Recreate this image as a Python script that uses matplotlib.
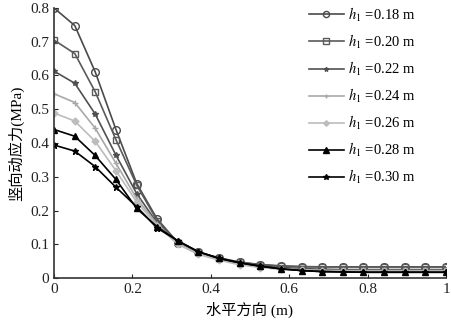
import matplotlib
matplotlib.use('Agg')
import matplotlib.pyplot as plt
import numpy as np

plt.rcParams['font.family'] = ['Liberation Serif', 'Noto Sans CJK SC']
plt.rcParams['mathtext.fontset'] = 'stix'

# horizontal distance (m), 20 stations from 0 to 1
x = [0.000, 0.053, 0.105, 0.158, 0.211, 0.263, 0.316, 0.368, 0.421, 0.474,
     0.526, 0.579, 0.632, 0.684, 0.737, 0.789, 0.842, 0.895, 0.947, 1.000]

labels = ['0.18', '0.20', '0.22', '0.24', '0.26', '0.28', '0.30']

s018 = [0.800, 0.748, 0.611, 0.440, 0.280, 0.175, 0.105, 0.076, 0.060, 0.047,
        0.040, 0.036, 0.034, 0.033, 0.033, 0.033, 0.033, 0.033, 0.033, 0.033]
s020 = [0.705, 0.665, 0.552, 0.410, 0.275, 0.170, 0.105, 0.076, 0.059, 0.046,
        0.039, 0.035, 0.033, 0.033, 0.033, 0.033, 0.033, 0.033, 0.033, 0.033]
s022 = [0.613, 0.577, 0.486, 0.364, 0.250, 0.163, 0.104, 0.074, 0.057, 0.044,
        0.036, 0.031, 0.028, 0.026, 0.025, 0.025, 0.025, 0.025, 0.025, 0.025]
s024 = [0.546, 0.520, 0.444, 0.340, 0.235, 0.160, 0.103, 0.072, 0.055, 0.041,
        0.033, 0.028, 0.025, 0.023, 0.022, 0.022, 0.022, 0.022, 0.022, 0.022]
s026 = [0.489, 0.465, 0.405, 0.318, 0.225, 0.155, 0.100, 0.070, 0.053, 0.039,
        0.031, 0.026, 0.023, 0.021, 0.020, 0.020, 0.020, 0.020, 0.020, 0.020]
s028 = [0.440, 0.420, 0.363, 0.292, 0.206, 0.152, 0.110, 0.078, 0.058, 0.045,
        0.035, 0.027, 0.022, 0.019, 0.018, 0.017, 0.017, 0.017, 0.017, 0.017]
s030 = [0.394, 0.376, 0.330, 0.269, 0.211, 0.148, 0.110, 0.078, 0.058, 0.045,
        0.035, 0.027, 0.022, 0.019, 0.018, 0.017, 0.017, 0.017, 0.017, 0.017]
series = [s018, s020, s022, s024, s026, s028, s030]

colors = ['#4a4a4a', '#5a5a5a', '#505050', '#a8a8a8', '#bcbcbc', '#000000', '#000000']
markers = ['o', 's', '*', '+', 'D', '^', '*']
msizes = [5.5, 5, 4, 4, 3.5, 5, 5]
fills = ['none', 'none', 'full', 'full', 'full', 'full', 'full']

fig = plt.figure(figsize=(4.51, 3.22), dpi=100)
ax = fig.add_axes([54 / 451, 1 - 278 / 322, 392 / 451, 270 / 322])

for s, lab, c, m, ms, f in zip(series, labels, colors, markers, msizes, fills):
    ax.plot(x, s, color=c, marker=m, markersize=ms, fillstyle=f,
            markeredgewidth=1.0, linewidth=1.2,
            label='$h_1$ =' + lab + ' m')

ax.set_xlim(0, 1)
ax.set_ylim(0, 0.8)
ax.set_xticks([0, 0.2, 0.4, 0.6, 0.8, 1])
ax.set_xticklabels(['0', '0.2', '0.4', '0.6', '0.8', '1'])
ax.set_yticks(np.arange(0, 0.81, 0.1))
ax.set_yticklabels(['0', '0.1', '0.2', '0.3', '0.4', '0.5', '0.6', '0.7', '0.8'])
ax.tick_params(direction='in', labelsize=11, length=3, colors='#222222')
for side in ['top', 'right']:
    ax.spines[side].set_visible(False)
for side in ['left', 'bottom']:
    ax.spines[side].set_color('#333333')
    ax.spines[side].set_linewidth(1.2)

ax.set_xlabel('水平方向 (m)', fontsize=11, labelpad=4)
ax.set_ylabel('竖向动应力(MPa)', fontsize=11, labelpad=4)

leg = ax.legend(loc='upper right', bbox_to_anchor=(417 / 451, 1 - 4 / 322),
                bbox_transform=fig.transFigure, frameon=False,
                fontsize=10.5, labelspacing=0.62, handlelength=2.4,
                handletextpad=0.3, markerscale=0.8,
                borderpad=0.1, borderaxespad=0)

fig.savefig('out.png', dpi=100)
